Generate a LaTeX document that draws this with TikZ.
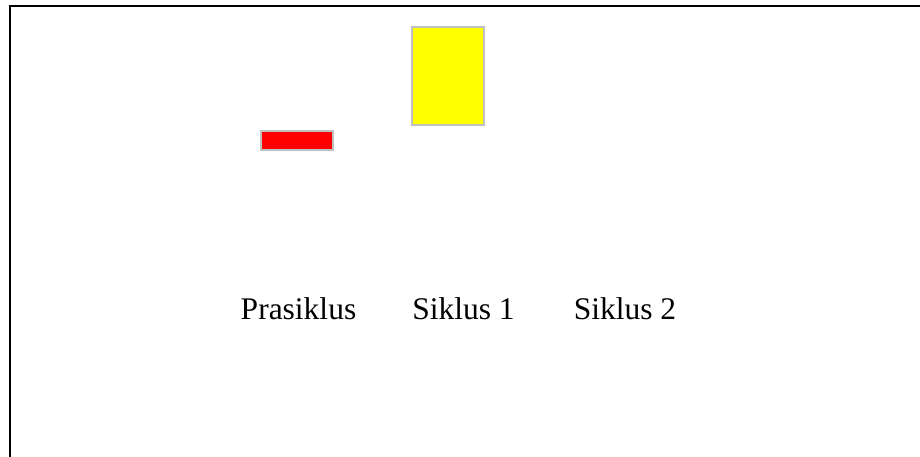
\documentclass[tikz,border=0pt]{standalone}
\usepackage{fontspec}
\setmainfont{Liberation Serif}
\definecolor{barred}{RGB}{255,0,0}
\definecolor{baryellow}{RGB}{255,255,0}
\definecolor{bargray}{RGB}{192,192,192}
\begin{document}
\begin{tikzpicture}[x=1pt,y=-1pt,
  bar/.style={draw=bargray,line width=2.6pt,inner sep=0pt,outer sep=0pt},
  label/.style={anchor=base,inner sep=0pt,font=\fontsize{31.5}{36}\selectfont}]
\useasboundingbox (0,0) rectangle (920,457);
\draw[line width=2.5pt] (10,457) -- (10,6) -- (920,6);
\node[bar,fill=barred,minimum width=72pt,minimum height=19pt] (pbar) at (297,140.5) {};
\node[bar,fill=baryellow,minimum width=72pt,minimum height=98pt] (s1bar) at (448,76) {};
\node[label] (pra) at (298.5,319) {Prasiklus};
\node[label] (s1) at (463.5,319) {Siklus 1};
\node[label] (s2) at (625,319) {Siklus 2};
\end{tikzpicture}
\end{document}
